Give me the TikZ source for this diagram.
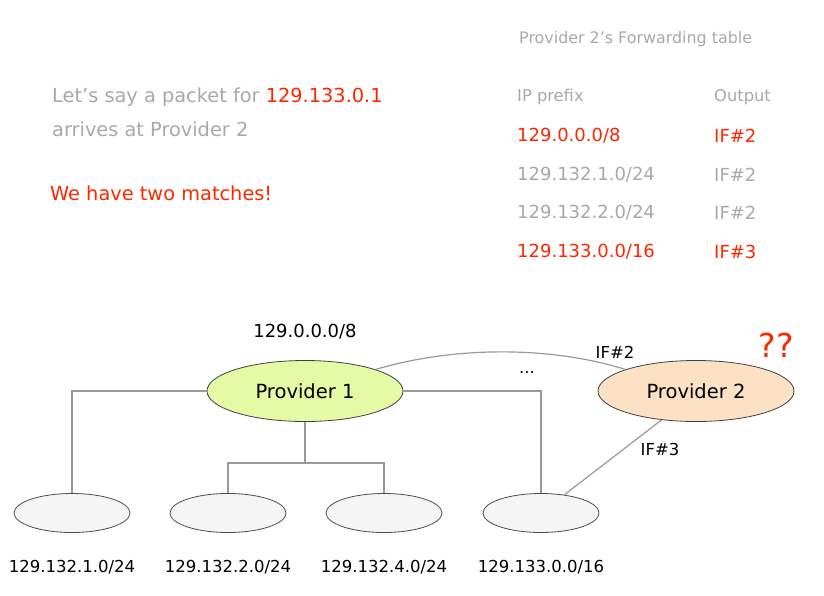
\documentclass[tikz,border=0pt]{standalone}
\usepackage{fontspec}
\setmainfont{DejaVu Sans}
\usetikzlibrary{shapes.geometric}
\definecolor{txtgrey}{RGB}{168,168,168}
\definecolor{hotred}{RGB}{255,38,0}
\definecolor{linegrey}{RGB}{153,153,153}
\definecolor{provgreen}{RGB}{230,250,165}
\definecolor{provpeach}{RGB}{253,225,197}
\definecolor{netfill}{RGB}{245,245,245}
\tikzset{
  provider/.style={ellipse, draw=black!75, line width=0.8pt, inner sep=0, minimum width=196pt, minimum height=61pt, font=\fontsize{19.5}{22}\selectfont},
  network/.style={ellipse, draw=black!70, line width=0.8pt, fill=netfill, inner sep=0, minimum width=116pt, minimum height=39pt},
  link/.style={draw=linegrey, line width=1.2pt},
  lbl/.style={font=\fontsize{16.5}{19}\selectfont, inner sep=0},
  tbl/.style={font=\fontsize{18}{21}\selectfont, anchor=west, inner sep=0},
}
\begin{document}
\begin{tikzpicture}[x=1pt, y=-1pt]
\useasboundingbox (0,0) rectangle (824,595);
% text at the top
\node[tbl, txtgrey, font=\fontsize{15.9}{18}\selectfont] (title) at (519,39) {Provider 2’s Forwarding table};
\node[tbl, txtgrey, font=\fontsize{16.3}{19}\selectfont] (hprefix) at (517,97) {IP prefix};
\node[tbl, txtgrey, font=\fontsize{16.3}{19}\selectfont] (hout) at (714,97) {Output};
\node[tbl, hotred] (r1p) at (517,136) {129.0.0.0/8};
\node[tbl, hotred] (r1o) at (714,136) {IF\#2};
\node[tbl, txtgrey] (r2p) at (517,175) {129.132.1.0/24};
\node[tbl, txtgrey] (r2o) at (714,175) {IF\#2};
\node[tbl, txtgrey] (r3p) at (517,213) {129.132.2.0/24};
\node[tbl, txtgrey] (r3o) at (714,213) {IF\#2};
\node[tbl, hotred] (r4p) at (517,252) {129.133.0.0/16};
\node[tbl, hotred] (r4o) at (714,252) {IF\#3};
\node[tbl, txtgrey, font=\fontsize{19.35}{22}\selectfont] (say) at (52,97) {Let’s say a packet for \textcolor{hotred}{129.133.0.1}};
\node[tbl, txtgrey, font=\fontsize{19.35}{22}\selectfont] (arrive) at (52,129) {arrives at Provider 2};
\node[tbl, hotred, font=\fontsize{19.35}{22}\selectfont] (matches) at (50,193) {We have two matches!};
% providers
\node[provider, fill=provgreen] (p1) at (305,391) {Provider 1};
\node[provider, fill=provpeach] (p2) at (696,391) {Provider 2};
\node[lbl, font=\fontsize{18}{21}\selectfont] (p1pre) at (305,332) {129.0.0.0/8};
\node[hotred, font=\fontsize{33}{36}\selectfont, inner sep=0] (qq) at (776,345) {??};
% networks
\foreach \i/\x/\pre in {1/72/129.132.1.0\slash 24, 2/228/129.132.2.0\slash 24, 3/384/129.132.4.0\slash 24, 4/541/129.133.0.0\slash 16}{
  \node[network] (n\i) at (\x,513) {};
  \node[lbl] (l\i) at (\x,567) {\pre};
}
% links
\coordinate (split) at (305,463);
\draw[link] (p1.west) -| (n1.north);
\draw[link] (p1.east) -| (n4.north);
\draw[link] (p1.south) -- (split);
\draw[link] (n2.north) |- (split) -| (n3.north);
\draw[link] (p1.17) .. controls (455,346) and (550,346) .. (p2.163);
\draw[link] (p2.220) -- (n4.38);
\node[lbl] (if2) at (615,352) {IF\#2};
\node[lbl] (if3) at (660,449) {IF\#3};
\node[lbl] (dots) at (527,372) {...};
\end{tikzpicture}
\end{document}
